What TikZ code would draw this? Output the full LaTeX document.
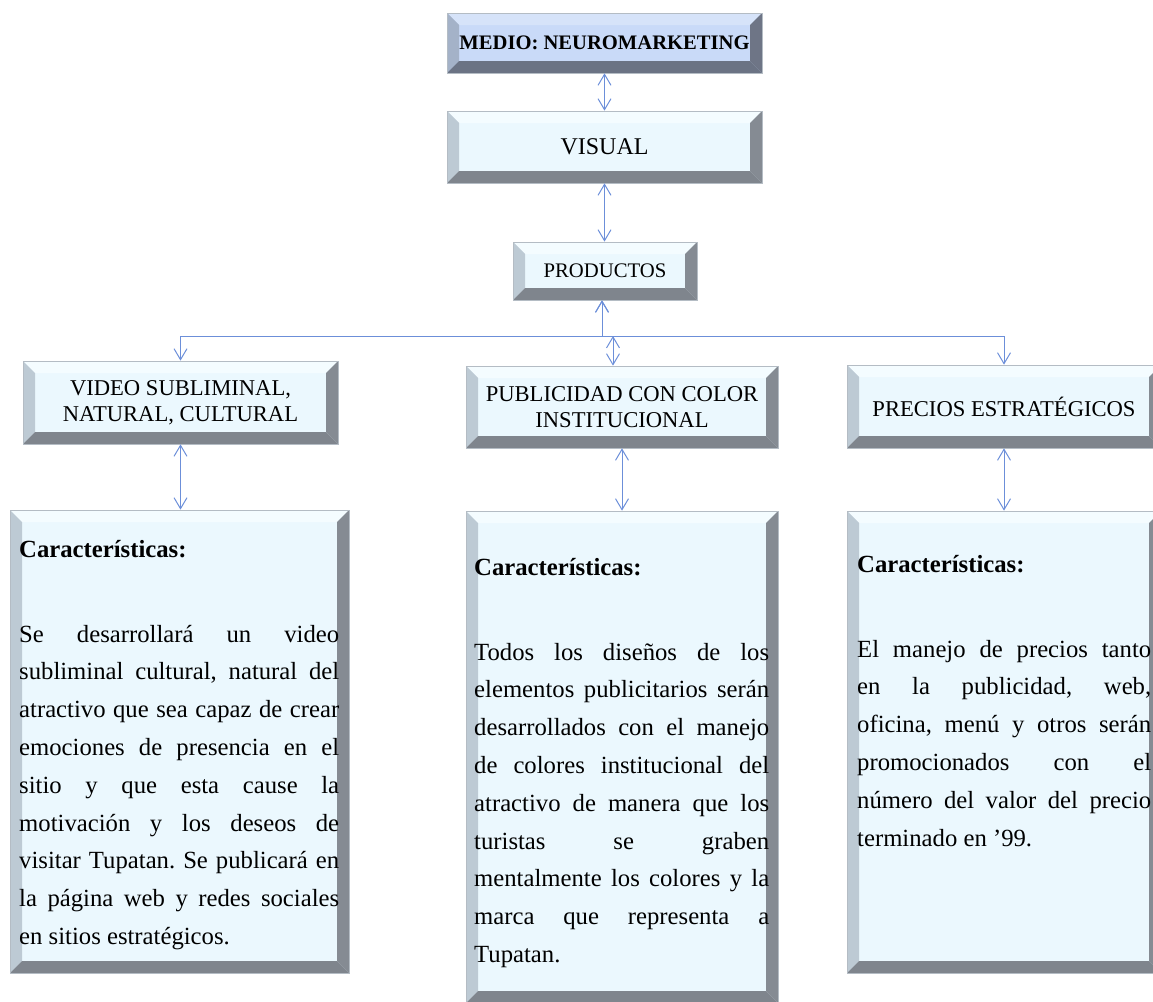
\documentclass[tikz,border=0pt]{standalone}
\usepackage{fontspec}
\setmainfont{Liberation Serif}
\usetikzlibrary{calc,arrows.meta}
\definecolor{faceCyan}{HTML}{EBF8FE}
\definecolor{bevelTop}{HTML}{F4FCFF}
\definecolor{bevelLeft}{HTML}{BDCAD4}
\definecolor{bevelRight}{HTML}{858B93}
\definecolor{bevelBottom}{HTML}{7F858D}
\definecolor{bevelEdge}{HTML}{B4BCC4}
\definecolor{faceBlue}{HTML}{C9DAF8}
\definecolor{headTop}{HTML}{D6E3F9}
\definecolor{headLeft}{HTML}{A4B2C8}
\definecolor{headRight}{HTML}{6E7586}
\definecolor{headBottom}{HTML}{6B7384}
\definecolor{linkBlue}{HTML}{6C8FD9}
\tikzset{
  bevelShades/.style n args={4}{path picture={
    \path (path picture bounding box.north west) coordinate (pnw)
          (path picture bounding box.south east) coordinate (pse);
    \fill[#1] (pnw) -- (pnw -| pse) -- ([shift={(-12pt,-12pt)}]pnw -| pse) -- ([shift={(12pt,-12pt)}]pnw) -- cycle;
    \fill[#2] (pnw) -- ([shift={(12pt,-12pt)}]pnw) -- ([shift={(12pt,12pt)}]pnw |- pse) -- (pnw |- pse) -- cycle;
    \fill[#3] (pnw -| pse) -- (pse) -- ([shift={(-12pt,12pt)}]pse) -- ([shift={(-12pt,-12pt)}]pnw -| pse) -- cycle;
    \fill[#4] (pnw |- pse) -- (pse) -- ([shift={(-12pt,12pt)}]pse) -- ([shift={(12pt,12pt)}]pnw |- pse) -- cycle;
  }},
  bevelBox/.style={draw=bevelEdge, line width=0.7pt, fill=faceCyan, inner sep=0pt, align=center,
    bevelShades={bevelTop}{bevelLeft}{bevelRight}{bevelBottom}},
  headBox/.style={bevelBox, fill=faceBlue, bevelShades={headTop}{headLeft}{headRight}{headBottom}},
  boxLabel/.style={font=\fontsize{22.6pt}{26pt}\selectfont},
  bodyText/.style={inner sep=0pt, anchor=north west, align=justify,
    font=\fontsize{24.7pt}{37.8pt}\selectfont},
  linkArrow/.style={draw=linkBlue, line width=1pt, <->, >={Straight Barb[length=11pt,width=13pt]}}
}
% heading line of each card, no hyphenation in the justified text below it
\newcommand{\cardHead}{\hyphenpenalty=10000\relax\tolerance=10000\relax\frenchspacing
  \textbf{Características:}\par\vspace{47pt}}

\begin{document}
\begin{tikzpicture}[x=1pt,y=-1pt]
\useasboundingbox (0,0) rectangle (1153,1001);

% top chain
\node[headBox, minimum width=315pt, minimum height=60pt, font=\fontsize{20.6pt}{24pt}\selectfont\bfseries] (medio) at (604.5,43) {MEDIO: NEUROMARKETING};
\node[bevelBox, minimum width=315pt, minimum height=72pt, font=\fontsize{24pt}{28pt}\selectfont] (visual) at (604.5,147) {VISUAL};
\node[bevelBox, minimum width=184pt, minimum height=58pt, font=\fontsize{20.7pt}{24pt}\selectfont] (productos) at (605,271) {PRODUCTOS};

% three branches
\node[bevelBox, boxLabel, minimum width=315pt, minimum height=83pt] (video) at (180.5,402.5) {VIDEO SUBLIMINAL,\\NATURAL, CULTURAL};
\node[bevelBox, boxLabel, minimum width=312pt, minimum height=82pt] (publicidad) at (622,407) {PUBLICIDAD CON COLOR\\INSTITUCIONAL};
\node[bevelBox, boxLabel, minimum width=314pt, minimum height=83pt] (precios) at (1004,406.5) {PRECIOS ESTRATÉGICOS};

% cards
\node[bevelBox, minimum width=339pt, minimum height=463pt] (videoCar) at (179.5,741.5) {};
\node[bevelBox, minimum width=312pt, minimum height=492pt] (publicidadCar) at (622,757) {};
\node[bevelBox, minimum width=314pt, minimum height=462pt] (preciosCar) at (1004,742) {};

\node[bodyText, text width=320pt] (videoTxt) at (19,540) {\cardHead
Se desarrollará un video\linebreak
subliminal cultural, natural del\linebreak
atractivo que sea capaz de crear\linebreak
emociones de presencia en el\linebreak
sitio y que esta cause la\linebreak
motivación y los deseos de\linebreak
visitar Tupatan. Se publicará en\linebreak
la página web y redes sociales\linebreak
en sitios estratégicos.};
\node[bodyText, text width=295pt] (publicidadTxt) at (474,558) {\cardHead
Todos los diseños de los\linebreak
elementos publicitarios serán\linebreak
desarrollados con el manejo\linebreak
de colores institucional del\linebreak
atractivo de manera que los\linebreak
turistas se graben\linebreak
mentalmente los colores y la\linebreak
marca que representa a\linebreak
Tupatan.};
\node[bodyText, text width=294pt] (preciosTxt) at (857,555) {\cardHead
El manejo de precios tanto\linebreak
en la publicidad, web,\linebreak
oficina, menú y otros serán\linebreak
promocionados con el\linebreak
número del valor del precio\linebreak
terminado en ’99.};

% connectors
\coordinate (fork) at (602,336);
\draw[linkArrow] (medio) -- (visual);
\draw[linkArrow] (visual.south) -- (visual.south |- productos.north);
\draw[linkArrow] ([xshift=-3pt]productos.south) -- (fork) -| (video.north);
\draw[linkArrow] ([xshift=-3pt]productos.south) -- (fork) -| (precios.north);
\draw[linkArrow] ([xshift=-9pt]publicidad.north |- fork) -- ([xshift=-9pt]publicidad.north);
\draw[linkArrow] (video.south) -- (video.south |- videoCar.north);
\draw[linkArrow] (publicidad) -- (publicidadCar);
\draw[linkArrow] (precios) -- (preciosCar);
\end{tikzpicture}
\end{document}
